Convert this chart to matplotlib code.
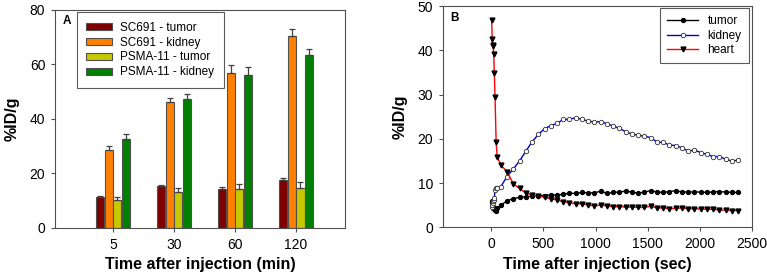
import numpy as np
import matplotlib.pyplot as plt

plt.rcParams['font.family'] = ['Liberation Sans', 'DejaVu Sans']

# ---- panel A: biodistribution bars ----
times_min = ["5", "30", "60", "120"]
sc691_tumor = [11.2, 15.3, 14.3, 17.7]
sc691_tumor_err = [0.6, 0.5, 0.8, 0.8]
sc691_kidney = [28.7, 46.3, 57.0, 70.6]
sc691_kidney_err = [1.2, 1.3, 2.7, 2.3]
psma_tumor = [10.4, 13.2, 14.4, 14.7]
psma_tumor_err = [1.0, 1.5, 1.8, 2.0]
psma_kidney = [32.6, 47.5, 56.0, 63.5]
psma_kidney_err = [1.8, 1.7, 2.9, 2.2]

# ---- panel B: dynamic time-activity curves ----
t_sec = [2.5, 7.5, 12.5, 17.5, 22.5, 27.5, 35, 45, 55,
         90, 150, 210, 270, 330, 390, 450, 510, 570, 630, 690, 750, 810,
         870, 930, 990, 1050, 1110, 1170, 1230, 1290, 1350, 1410, 1470,
         1530, 1590, 1650, 1710, 1770, 1830, 1890, 1950, 2010, 2070, 2130,
         2190, 2250, 2310, 2370]
tumor = [5.8, 6.0, 4.6, 4.3, 4.1, 4.4, 4.0, 3.8, 4.3,
         5.0, 6.0, 6.5, 6.8, 6.9, 7.1, 7.2, 7.2, 7.3, 7.3, 7.5, 7.7, 7.7,
         7.9, 7.8, 7.8, 8.2, 7.7, 7.9, 8.0, 8.2, 8.0, 7.7, 8.0, 8.3, 8.0,
         7.9, 8.1, 8.3, 8.0, 8.0, 8.0, 8.0, 7.9, 8.0, 8.1, 8.0, 7.9, 7.9]
kidney = [4.5, 5.0, 5.6, 6.0, 6.2, 6.6, 8.4, 8.8, 9.0,
          9.2, 11.5, 13.2, 15.0, 17.2, 19.3, 21.0, 22.3, 23.0, 23.5, 24.4,
          24.4, 24.8, 24.4, 24.0, 23.8, 23.9, 23.4, 22.9, 22.4, 21.6, 21.1,
          20.8, 20.6, 20.3, 19.3, 19.2, 18.6, 18.5, 18.0, 17.2, 17.5, 16.9,
          16.5, 16.0, 16.0, 15.4, 15.0, 15.2]
heart = [46.8, 42.5, 41.3, 40.9, 39.2, 34.8, 29.5, 19.4, 16.0,
         14.1, 12.6, 9.9, 8.8, 7.8, 7.3, 7.1, 6.8, 6.5, 6.2, 5.8, 5.6, 5.3,
         5.4, 5.0, 4.9, 5.0, 4.9, 4.7, 4.7, 4.6, 4.6, 4.5, 4.5, 4.8, 4.4,
         4.4, 4.2, 4.3, 4.4, 4.2, 4.2, 4.2, 4.1, 4.1, 3.9, 3.9, 3.8, 3.8]

fig = plt.figure(figsize=(7.67, 2.77), dpi=100)
axA = fig.add_axes([0.0717, 0.177, 0.378, 0.787])
axB = fig.add_axes([0.5776, 0.179, 0.4024, 0.799])

edge = '#505050'
tick_fs = 10
label_fs = 11.5
leg_fs = 8.5

# panel A
x = np.arange(1, len(times_min) + 1)
w = 0.135
series = [
    (sc691_tumor, sc691_tumor_err, '#7f0000', 'SC691 - tumor'),
    (sc691_kidney, sc691_kidney_err, '#ff8000', 'SC691 - kidney'),
    (psma_tumor, psma_tumor_err, '#c8c800', 'PSMA-11 - tumor'),
    (psma_kidney, psma_kidney_err, '#008000', 'PSMA-11 - kidney'),
]
for i, (vals, err, col, lab) in enumerate(series):
    pos = x + (i - 1.5) * w * 1.05
    axA.bar(pos, vals, width=w, color=col, edgecolor=edge, linewidth=0.8,
            label=lab, zorder=2)
    axA.errorbar(pos, vals, yerr=[np.zeros(len(err)), err], fmt='none',
                 ecolor='#404040', elinewidth=0.9, capsize=2.5,
                 capthick=0.9, zorder=3)

axA.set_xlim(0.05, 4.8)
axA.set_ylim(0, 80)
axA.set_xticks(x)
axA.set_xticklabels(times_min)
axA.set_yticks([0, 20, 40, 60, 80])
axA.set_xlabel('Time after injection (min)', fontsize=label_fs,
               fontweight='bold', labelpad=4)
axA.set_ylabel('%ID/g', fontsize=label_fs, fontweight='bold', labelpad=7)
axA.text(0.025, 0.975, 'A', transform=axA.transAxes, fontsize=8.5,
         fontweight='bold', va='top', ha='left')
legA = axA.legend(loc='upper left', bbox_to_anchor=(0.075, 0.99),
                  fontsize=leg_fs, frameon=True, fancybox=False,
                  handlelength=2.2, handleheight=0.55, borderpad=0.8,
                  labelspacing=0.25, handletextpad=0.7, borderaxespad=0)
legA.get_frame().set_edgecolor('#303030')
legA.get_frame().set_linewidth(0.8)

# panel B
axB.plot(t_sec, tumor, color='black', lw=1, marker='o', ms=2.8,
         mfc='black', mec='black', label='tumor')
axB.plot(t_sec, kidney, color='#0000cc', lw=1, marker='o', ms=3.2,
         mfc='white', mec='#303030', mew=0.6, label='kidney')
axB.plot(t_sec, heart, color='red', lw=1, marker='v', ms=3.5,
         mfc='black', mec='black', label='heart')
axB.set_xlim(-465, 2500)
axB.set_ylim(0, 50)
axB.set_xticks([0, 500, 1000, 1500, 2000, 2500])
axB.set_yticks([0, 10, 20, 30, 40, 50])
axB.set_xlabel('Time after injection (sec)', fontsize=label_fs,
               fontweight='bold', labelpad=4)
axB.set_ylabel('%ID/g', fontsize=label_fs, fontweight='bold', labelpad=7)
axB.text(0.025, 0.975, 'B', transform=axB.transAxes, fontsize=8.5,
         fontweight='bold', va='top', ha='left')
legB = axB.legend(loc='upper right', bbox_to_anchor=(0.99, 0.99),
                  fontsize=leg_fs, frameon=True, fancybox=False,
                  handlelength=2.6, borderpad=0.6, labelspacing=0.2,
                  handletextpad=0.8, borderaxespad=0)
legB.get_frame().set_edgecolor('#303030')
legB.get_frame().set_linewidth(0.8)

for ax in (axA, axB):
    for s in ax.spines.values():
        s.set_color('#505050')
        s.set_linewidth(0.8)
    ax.tick_params(direction='out', length=3, width=0.8, color='#505050',
                   labelsize=tick_fs, pad=4)

fig.savefig('out.png', dpi=100)
